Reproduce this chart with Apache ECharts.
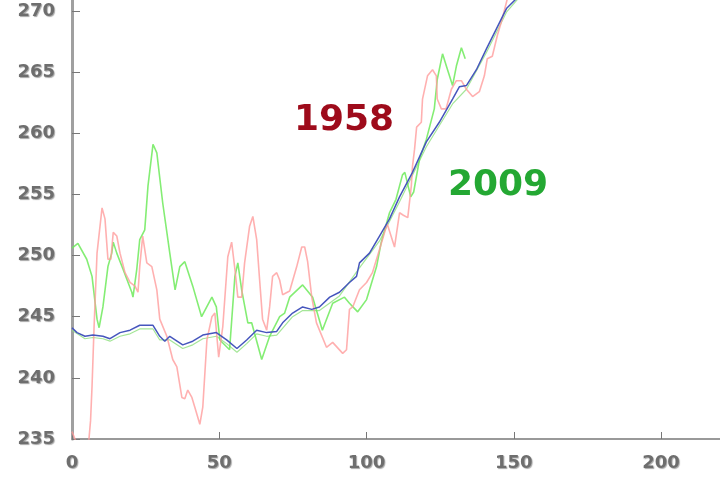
<!DOCTYPE html>
<html>
<head>
<meta charset="utf-8">
<script src="https://cdn.jsdelivr.net/npm/echarts@6/dist/echarts.min.js"></script>
<style>
  html, body { margin: 0; padding: 0; background: #fff; }
  #chart { width: 720px; height: 486px; }
</style>
</head>
<body>
<div id="chart"></div>
<script>
// x ticks / y ticks
const xTicks = [0, 50, 100, 150, 200];
const yTicks = [235, 240, 245, 250, 255, 260, 265, 270];

// 1958 series (pink)
const x1958 = [0, 2, 4, 5.5, 6.3, 6.8, 7.5, 8.5, 10.2, 11.2, 12.2, 13.2, 14, 15.2, 16.3, 18, 19.7, 21.4, 22.4, 23, 24,
  25.4, 27.1, 28.8, 29.8, 32.2, 34.2, 35.6, 37.3, 38.3, 39.3, 40.7, 41.7, 43.4, 44.4, 45.8, 47.5, 48.5, 49.8, 51.2,
  52.9, 54.2, 55.3, 56.3, 57.6, 58.6, 60.3, 61.4, 62.7, 63.7, 64.7, 66.1, 67.1, 68.1, 69.5, 70.5, 71.5, 73.9, 76.3,
  78, 79, 80, 81.4, 83, 86.4, 88.5, 91.9, 93.2, 94.2, 95.3, 97.6, 100, 102, 104.4, 107, 109.5, 111.2, 112.5, 114,
  115.2, 115.6, 116.3, 117, 118.6, 119, 120.7, 122.4, 123.7, 124, 125.4, 127, 128.8, 130.5, 132.2, 133.9, 136,
  138.3, 140, 141, 142.7, 144.4, 146, 147.8, 150, 153];
const y1958 = [235.6, 234.4, 233, 234.3, 236.5, 239.3, 244.2, 250.2, 253.9, 253, 249.7, 249.7, 251.9, 251.6, 250.2, 248.6,
  247.8, 247.5, 247, 249.1, 251.6, 249.4, 249.1, 247.2, 244.8, 243.4, 241.5, 240.9, 238.4, 238.3, 239, 238.4, 237.6,
  236.2, 237.6, 243.1, 245, 245.3, 241.7, 244.2, 249.9, 251.1, 248.9, 246.6, 246.6, 249.4, 252.4, 253.2, 251.3, 248,
  244.8, 243.9, 245.8, 248.3, 248.6, 248, 246.8, 247.1, 249.1, 250.7, 250.7, 249.5, 246.6, 244.5, 242.5, 242.9, 242,
  242.3, 245.6, 245.8, 247.2, 247.8, 248.6, 250.5, 252.6, 250.7, 253.5, 253.3, 253.1, 255.7, 257.3, 258.7, 260.5,
  260.9, 262.8, 264.7, 265.2, 264.7, 262.8, 262, 262, 263.6, 264.3, 264.3, 263.6, 263, 263.4, 264.7, 266.1, 266.3,
  268, 269.3, 271, 272.2, 273.5];

// 2009 series (green)
const x2009 = [0, 2, 5, 6.8, 8.5, 9.2, 10.5, 12.2, 13.5, 14, 15.2, 17.3, 20.3, 20.7, 22, 23, 24.7, 25.8, 27.5, 28.8,
  30.8, 33.2, 35, 36.6, 38.3, 41, 44, 47.5, 49, 50.2, 53.5, 55.3, 56.3, 57.6, 59.7, 61, 64.4, 67.1, 70.5, 72.2, 73.9,
  78.3, 81.7, 85, 88.5, 92.5, 94.2, 97, 100, 103.4, 105, 107.8, 110, 112.2, 113, 115, 116, 118, 120.3, 123, 124,
  125.8, 127.5, 129.2, 130.5, 132.2, 133.5];
const y2009 = [250.6, 251, 249.7, 248.3, 244.8, 244.1, 245.8, 249.1, 250.2, 251.1, 250.2, 248.9, 247, 246.6, 248.9,
  251.3, 252.1, 255.7, 259.1, 258.4, 254.3, 250.2, 247.2, 249.1, 249.5, 247.5, 245, 246.6, 245.8, 243.1, 242.3,
  248.3, 249.4, 247.2, 244.5, 244.5, 241.5, 243.4, 245, 245.3, 246.6, 247.6, 246.6, 243.9, 246.1, 246.6, 246.1,
  245.4, 246.4, 249.1, 251.1, 253.5, 254.6, 256.6, 256.8, 254.8, 255.2, 257.9, 259.5, 262, 264.4, 266.5, 265.2,
  263.9, 265.5, 267, 266.1];

// smooth trend (blue)
const xTrend = [0, 1.7, 4.4, 7.1, 10.5, 12.9, 16.3, 19.7, 23, 27.5, 29.8, 31.5, 33.2, 37.6, 41, 44.4, 49, 52.5, 56,
  59.3, 62.7, 66.1, 69.5, 71.5, 74.9, 78.3, 81.4, 84, 87.5, 90.8, 94.2, 96.6, 97.6, 101, 104.4, 107.8, 111.2, 115.6,
  120.3, 124.7, 129.2, 131.5, 133.9, 137.3, 140.7, 144, 147.5, 150.8, 155];
const yTrend = [244.1, 243.7, 243.4, 243.5, 243.4, 243.2, 243.7, 243.9, 244.3, 244.3, 243.4, 243, 243.4, 242.7, 243,
  243.5, 243.7, 243.1, 242.4, 243.1, 243.9, 243.7, 243.8, 244.5, 245.3, 245.8, 245.6, 245.8, 246.6, 247, 247.8,
  248.3, 249.4, 250.2, 251.6, 253, 254.8, 256.8, 259.3, 260.9, 262.8, 263.8, 263.9, 265.2, 266.9, 268.5, 270.2,
  271, 272.4];

// faint green trace running just under the trend
const xShadow = [0, 4.4, 7.1, 10.5, 12.9, 16.3, 19.7, 23, 27.5, 29.8, 33.2, 37.6, 41, 44.4, 49, 52.5, 56, 59.3, 62.7,
  66.1, 69.5, 74.9, 78.3, 84, 90.8, 97.6, 104.4, 111.2, 120.3, 129.2, 133.9, 140.7, 147.5, 155];
const yShadow = [243.9, 243.2, 243.3, 243.2, 243, 243.4, 243.6, 244, 244, 243.1, 243.1, 242.4, 242.7, 243.2, 243.4,
  242.8, 242.1, 242.8, 243.6, 243.4, 243.5, 245, 245.5, 245.5, 246.7, 249, 251.2, 254.4, 258.9, 262.4, 263.6,
  266.6, 269.9, 272];

const zip = (xs, ys) => xs.map((x, i) => [x, ys[i]]);

const chart = echarts.init(document.getElementById('chart'));

const labelStyle = {
  color: '#6e6e6e',
  fontFamily: 'DejaVu Sans',
  fontWeight: 'bold',
  fontSize: 18,
  textShadowColor: 'rgba(0,0,0,0.35)',
  textShadowOffsetX: 1,
  textShadowOffsetY: 1,
  textShadowBlur: 1
};

const option = {
  backgroundColor: '#ffffff',
  animation: false,
  grid: { left: 72, right: 0, top: 0, bottom: 47 },
  xAxis: {
    type: 'value',
    min: xTicks[0],
    max: 220,
    interval: xTicks[1] - xTicks[0],
    splitLine: { show: false },
    axisLine: { lineStyle: { color: '#999', width: 2 } },
    axisTick: { inside: true, length: 7, lineStyle: { color: '#777' } },
    axisLabel: Object.assign({ margin: 15, showMaxLabel: false }, labelStyle)
  },
  yAxis: {
    type: 'value',
    min: yTicks[0],
    max: 270.9,
    interval: yTicks[1] - yTicks[0],
    splitLine: { show: false },
    axisLine: { show: true, lineStyle: { color: '#a0a0a0', width: 3 } },
    axisTick: { show: true, inside: true, length: 8, lineStyle: { color: '#777' } },
    axisLabel: Object.assign({ margin: 17, showMaxLabel: false }, labelStyle)
  },
  graphic: [
    {
      type: 'text', x: 344, y: 121,
      style: {
        text: '1958', fill: '#9e0b1b', align: 'center', verticalAlign: 'middle',
        font: 'bold 36px "DejaVu Sans"'
      }
    },
    {
      type: 'text', x: 498, y: 186,
      style: {
        text: '2009', fill: '#24a833', align: 'center', verticalAlign: 'middle',
        font: 'bold 36px "DejaVu Sans"'
      }
    }
  ],
  series: [
    {
      type: 'line', data: zip(xShadow, yShadow), symbol: 'none',
      lineStyle: { color: '#8ee07e', width: 1.2, opacity: 0.8 }
    },
    {
      type: 'line', data: zip(x2009, y2009), symbol: 'none',
      lineStyle: { color: '#6fea5c', width: 1.6, opacity: 0.85 }
    },
    {
      type: 'line', data: zip(x1958, y1958), symbol: 'none',
      lineStyle: { color: '#ff9c9c', width: 1.6, opacity: 0.8 }
    },
    {
      type: 'line', data: zip(xTrend, yTrend), symbol: 'none',
      lineStyle: { color: '#4656bd', width: 1.5 }
    }
  ]
};

chart.setOption(option);
</script>
</body>
</html>
